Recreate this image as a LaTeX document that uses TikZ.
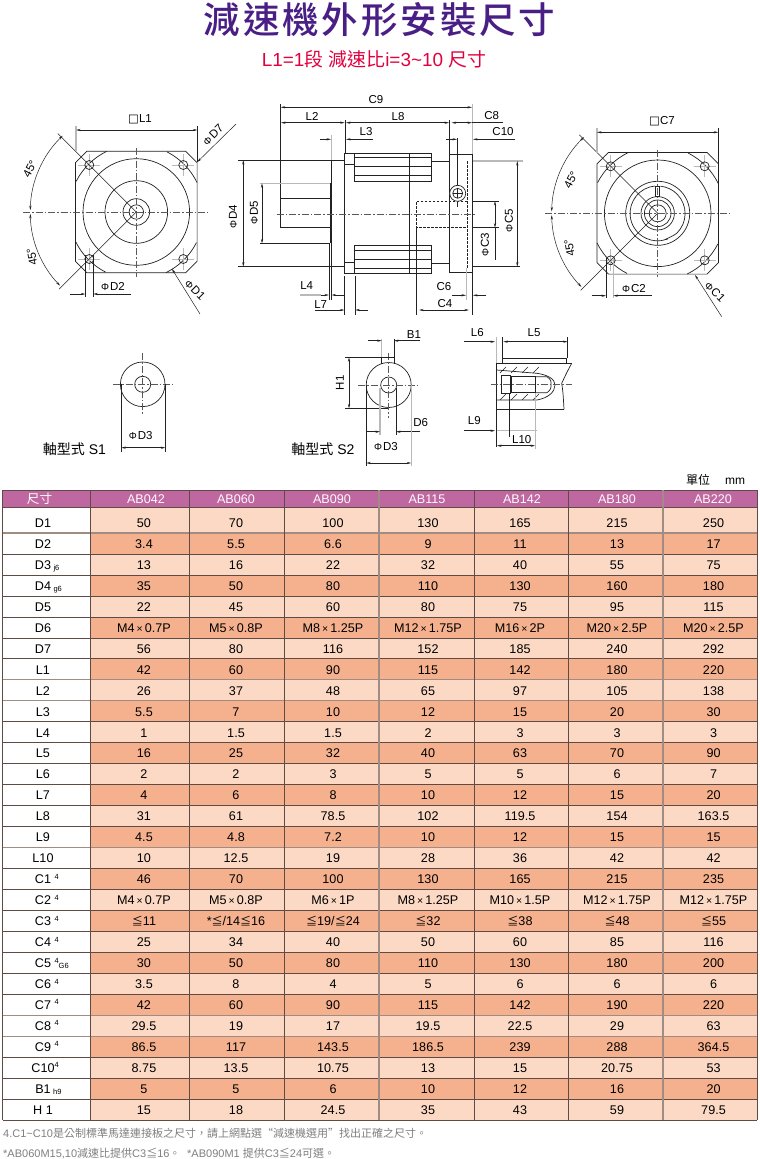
\documentclass[tikz,border=0pt]{standalone}
\usepackage{fontspec}
\setmainfont{Liberation Sans}
\newfontfamily\cjk{Noto Sans CJK TC}
\newfontfamily\cjkb{Noto Sans CJK TC Medium}
\newfontfamily\dv{DejaVu Sans}
\usetikzlibrary{arrows.meta}
\definecolor{titlecol}{HTML}{4A1F85}
\definecolor{subcol}{HTML}{E2003F}
\definecolor{headcol}{HTML}{BF67A0}
\definecolor{lightcell}{HTML}{FBD9C4}
\definecolor{darkcell}{HTML}{F5B18E}
\definecolor{gridcol}{HTML}{5E4B46}
\definecolor{gridsoft}{HTML}{A08C82}
\definecolor{inkcol}{HTML}{222222}
\definecolor{softline}{HTML}{B9B9B9}
\definecolor{notecol}{HTML}{808080}
\newcommand\Cj[1]{{\cjk #1}}
\newcommand\Ph{{\fontsize{10}{10}\selectfont Φ}\hspace{1pt}}
\newcommand\Sq{{\dv\fontsize{11.5}{11.5}\selectfont □}}
\newcommand\LE{{\cjk\fontsize{11}{11}\selectfont ≦}}
\newcommand\Mx[2]{M#1\hspace{2pt}{\fontsize{10.5}{10.5}\selectfont×}\hspace{2pt}#2P}
\newcommand\Sb[1]{\rlap{\hspace{2.5pt}\raisebox{-1pt}{\fontsize{7.5}{7.5}\selectfont #1}}}
\newcommand\Su[1]{\rlap{\hspace{3.5pt}\raisebox{4.5pt}{\fontsize{7.5}{7.5}\selectfont #1}}}
\newcommand\Sug[1]{\rlap{\hspace{3.5pt}\raisebox{4.5pt}{\fontsize{7.5}{7.5}\selectfont 4}\raisebox{-1pt}{\fontsize{7.5}{7.5}\selectfont #1}}}
\newcommand\datarow[9]{%
  \pgfmathsetmacro\yb{533+20.96*#1}%
  \pgfmathsetmacro\yt{#1==0?507.3:\yb-20.96}%
  \pgfmathsetmacro\yc{\yb-5.6}%
  \pgfmathparse{int(mod(#1,2))}%
  \ifnum\pgfmathresult=0 \fill[lightcell] (90,\yt) rectangle (757.3,\yb);\else \fill[darkcell] (90,\yt) rectangle (757.3,\yb);\fi
  \node[rowlabel] (lab#1) at (43,\yc) {#2};
  \node[cell] (a#1) at (144,\yc) {#3};
  \node[cell] (b#1) at (236,\yc) {#4};
  \node[cell] (c#1) at (333,\yc) {#5};
  \node[cell] (d#1) at (428,\yc) {#6};
  \node[cell] (e#1) at (520,\yc) {#7};
  \node[cell] (f#1) at (617,\yc) {#8};
  \node[cell] (g#1) at (713.5,\yc) {#9};
}
% flange end view, local origin at the centre
\newcommand\flangeview[1]{%
  \begin{scope}[shift={#1}]
    \draw[part] (-49.3,-60.8)--(49.3,-60.8)--(60.8,-49.3)--(60.8,49.3)--(49.3,60.8)--(-49.3,60.8)--(-60.8,49.3)--(-60.8,-49.3)--cycle;
    \draw[part] (0,0) circle[radius=53.3pt];
    \foreach \q in {0,90,180,270}{
      \draw[part] ([shift={(\q+26:67.5pt)}]0,0) arc[start angle=\q+26,end angle=\q+63,radius=67.5pt];
    }
    \foreach \hx/\hy in {-47/-47,47/-47,-47/47,47/47}{
      \draw[softline,line width=.8pt] (\hx-11,\hy)--(\hx+11,\hy);
      \draw[softline,line width=.8pt] (\hx,\hy-11)--(\hx,\hy+11);
      \draw[part] (\hx,\hy) circle[radius=4.5pt];
    }
    \draw[thinline] (0,0)--(135:111pt);
    \draw[thinline] (0,0)--(225:109pt);
    \draw[dimtips] ([shift={(134:106pt)}]0,0) arc[start angle=134,end angle=179,radius=106pt];
    \draw[dimtips] ([shift={(181:106pt)}]0,0) arc[start angle=181,end angle=224,radius=106pt];
  \end{scope}
}
\tikzset{
  part/.style={draw=inkcol,line width=.7pt},
  thinline/.style={draw=inkcol,line width=.5pt},
  softext/.style={draw=softline,line width=1.1pt},
  centre/.style={draw=inkcol!75,line width=.55pt,dash pattern=on 7pt off 2pt on 1.5pt off 2pt},
  hidden/.style={draw=inkcol,line width=.6pt,dash pattern=on 2.5pt off 1.5pt},
  dimtips/.style={draw=inkcol,line width=.5pt,{Stealth[length=4.5pt,width=2.2pt]}-{Stealth[length=4.5pt,width=2.2pt]}},
  dimtip/.style={draw=inkcol,line width=.5pt,-{Stealth[length=4.5pt,width=2.2pt]}},
  dimlabel/.style={inner sep=0pt,text=black,font=\fontsize{11.5}{12}\selectfont},
  rowlabel/.style={inner sep=0pt,anchor=base,text=black,font=\fontsize{12.6}{14}\selectfont},
  cell/.style={inner sep=0pt,anchor=base,text=black,font=\fontsize{12.6}{14}\selectfont},
  headcell/.style={inner sep=0pt,anchor=base,text=white!92!pink,font=\fontsize{12.6}{14}\selectfont},
}
\begin{document}
\begin{tikzpicture}[x=1pt,y=-1pt]
\useasboundingbox (0,0) rectangle (760,1159);
\fill[white] (0,0) rectangle (760,1159);

% titles
\node[inner sep=0pt,text=titlecol] (title) at (379.5,19.5) {\cjkb\fontsize{36.5}{38}\selectfont 減\hspace{2.9pt}速\hspace{2.9pt}機\hspace{2.9pt}外\hspace{2.9pt}形\hspace{2.9pt}安\hspace{2.9pt}裝\hspace{2.9pt}尺\hspace{2.9pt}寸};
\node[inner sep=0pt,text=subcol] (subtitle) at (374,59.5) {\fontsize{18.9}{20}\selectfont L1=1\Cj{段} \Cj{減速比}i=3\textasciitilde10 \Cj{尺寸}};

% ---------- left end view
\coordinate (LC) at (136.3,212);
\flangeview{(136.3,212)}
\begin{scope}[shift={(136.3,212)}]
  \draw[part] (0,0) circle[radius=31.3pt];
  \draw[part] (0,0) circle[radius=13.3pt];
  \draw[part] (0,0) circle[radius=7.2pt];
\end{scope}
\draw[centre] (23,212)--(208,212);
\draw[centre] (136.3,148)--(136.3,277);
\draw[softext] (76,126)--(76,151);
\draw[thinline] (197.3,126)--(197.3,162);
\draw[dimtips] (76,130)--(197.3,130);
\node[dimlabel] (tL1) at (140,119) {\Sq L1};
\draw[dimtip] (236,124)--(197.3,162);
\node[dimlabel,rotate=45] (tD7) at (213,135) {\Ph D7};
\draw[dimtip] (200,314)--(172,269);
\node[dimlabel,rotate=-45] (tD1) at (195,290) {\Ph D1};
\draw[thinline] (85.3,255)--(85.3,297);
\draw[thinline] (93.3,255)--(93.3,297);
\draw[dimtip] (70,294)--(85.3,294);
\draw[dimtip] (131,294)--(93.3,294);
\node[dimlabel] (tD2) at (113,287) {\Ph D2};
\node[dimlabel,rotate=62] (a1) at (30,169) {45°};
\node[dimlabel,rotate=100] (a2) at (32,257) {45°};

% ---------- right end view
\flangeview{(657.7,213.3)}
\begin{scope}[shift={(657.7,213.3)}]
  \draw[part] (0,0) circle[radius=32pt];
  \draw[part] (-3,-27.3) arc[start angle=96,end angle=288,radius=27.5pt]
     .. controls (4,27) and (14,24) .. (19,20)
     arc[start angle=-46,end angle=84,radius=27.5pt];
  \draw[part] (0,0) circle[radius=16.7pt];
  \draw[part] (0,0) circle[radius=13.3pt];
  \draw[part] (0,0) circle[radius=8.5pt];
  \draw[part] (-2,-27.3) rectangle (2,-16.5);
\end{scope}
\draw[centre] (545,213.3)--(730,213.3);
\draw[centre] (657.7,150)--(657.7,277);
\draw[softext] (597,128)--(597,153);
\draw[thinline] (718.3,128)--(718.3,165);
\draw[dimtips] (597,132.3)--(718.3,132.3);
\node[dimlabel] (tC7) at (662,120.7) {\Sq C7};
\draw[dimtip] (721.7,316.7)--(695,275);
\node[dimlabel,rotate=-45] (tC1) at (715,291.7) {\Ph C1};
\draw[thinline] (606,258)--(606,298);
\draw[softext] (613.3,258)--(613.3,298);
\draw[dimtip] (591.7,295.7)--(606,295.7);
\draw[dimtip] (651.7,295.7)--(613.3,295.7);
\node[dimlabel] (tC2) at (634,289) {\Ph C2};
\node[dimlabel,rotate=62] (a3) at (571,180) {45°};
\node[dimlabel,rotate=100] (a4) at (569.5,248) {45°};

% ---------- side view
\draw[part] (330,198.3)--(280,198.3)--(280,227.7)--(330,227.7);
\draw[part] (330,183.3)--(330,243.3);
\draw[part] (331.5,160)--(331.5,266.7);
\draw[part] (331.5,160)--(344.3,160) (331.5,266.7)--(344.3,266.7);
\draw[part] (344.3,153.3)--(431.7,153.3) (344.3,273.3)--(431.7,273.3);
\draw[part] (344.3,153.3)--(344.3,273.3);
\draw[part] (409.3,153.3)--(409.3,273.3);
\draw[part] (354.3,153.3)--(354.3,181) (354.3,245)--(354.3,273.3);
\draw[part] (431.7,153.3)--(431.7,181) (431.7,245)--(431.7,273.3);
\foreach \fy in {157.7,166.7,175.7,181,245,250.7,259.3,268.3}{\draw[part] (354.3,\fy)--(431.7,\fy);}
\draw[part] (344.3,164)--(354.3,164) (344.3,262.7)--(354.3,262.7);
\draw[part] (431.7,161.7)--(449.3,161.7) (431.7,263.3)--(449.3,263.3);
\draw[part] (449.3,154)--(472.7,154)--(472.7,272.3)--(449.3,272.3)--cycle;
\draw[hidden] (467.3,161)--(467.3,268);
\draw[hidden] (467.3,201)--(416.7,201)--(416.7,227.7)--(467.3,227.7);
\draw[thinline] (457.7,138)--(457.7,207);
\draw[part,fill=white] (457.7,193.3) circle[radius=8pt];
\draw[part] (457.7,193.3) circle[radius=5pt];
\draw[thinline] (452.7,193.3)--(462.7,193.3) (457.7,188.3)--(457.7,198.3);
\draw[centre] (276.7,214)--(476,214);
% side-view dimensions
\draw[thinline] (280.7,104)--(280.7,198.3);
\draw[softext] (472.7,104)--(472.7,154);
\draw[dimtips] (280.7,107.3)--(472,107.3);
\node[dimlabel] (tC9) at (376,100) {C9};
\draw[dimtips] (281,122.7)--(344.7,122.7);
\node[dimlabel] (tL2) at (312,116) {L2};
\draw[thinline] (345,120)--(345,153.3);
\draw[thinline] (449.3,120)--(449.3,154);
\draw[dimtips] (346,122.7)--(449,122.7);
\node[dimlabel] (tL8) at (398,117) {L8};
\draw[dimtips] (451.7,122.7)--(472,122.7);
\draw[thinline] (472,122.7)--(503,122.7);
\node[dimlabel] (tC8) at (491.7,116) {C8};
\draw[softext] (331.5,135)--(331.5,160);
\draw[dimtip] (320,139.3)--(331,139.3);
\draw[dimtip] (373,139.3)--(346,139.3);
\node[dimlabel] (tL3) at (366,131.7) {L3};
\draw[dimtip] (446,139.3)--(457,139.3);
\draw[dimtip] (515,139.3)--(473,139.3);
\node[dimlabel] (tC10) at (503,132) {C10};
\draw[thinline] (238,160)--(331.5,160) (238,266.7)--(331.5,266.7);
\draw[dimtips] (243.3,160)--(243.3,266.7);
\node[dimlabel,rotate=90] (tD4) at (233,216.7) {\Ph D4};
\draw[softext] (260,183.3)--(330,183.3);
\draw[thinline] (260,243.3)--(330,243.3);
\draw[dimtips] (262,183.3)--(262,243.3);
\node[dimlabel,rotate=90] (tD5) at (254,213) {\Ph D5};
\draw[softext] (472.7,161)--(522.7,161);
\draw[thinline] (472.7,266.7)--(520,266.7);
\draw[dimtips] (517.3,161)--(517.3,266.7);
\node[dimlabel,rotate=90] (tC5) at (509,220.7) {\Ph C5};
\draw[thinline] (472.7,201)--(499,201) (472.7,227.7)--(499,227.7);
\draw[dimtips] (495,201)--(495,227.7);
\draw[thinline] (495,227.7)--(495,260);
\node[dimlabel,rotate=90] (tC3) at (485,245) {\Ph C3};
\draw[thinline] (329,243.3)--(329,300) (331.5,266.7)--(331.5,300);
\draw[softext] (300,295)--(321,295);
\draw[dimtip] (321,295)--(329,295);
\draw[dimtip] (345,295)--(331.5,295);
\node[dimlabel] (tL4) at (306.7,286) {L4};
\draw[thinline] (344.3,276)--(344.3,315) (355.3,276)--(355.3,315);
\draw[dimtip] (315,310)--(344.3,310);
\draw[dimtip] (368,310)--(355.3,310);
\node[dimlabel] (tL7) at (320.7,304.7) {L7};
\draw[softext] (466.5,268)--(466.5,300);
\draw[thinline] (472.7,272.3)--(472.7,315);
\draw[dimtip] (452,295.3)--(466,295.3);
\draw[dimtip] (486,295.3)--(473,295.3);
\node[dimlabel] (tC6) at (444,287) {C6};
\draw[thinline] (416.7,227.7)--(416.7,315);
\draw[dimtips] (419,310)--(469,310);
\node[dimlabel] (tC4) at (445,304) {C4};

% ---------- shaft S1
\draw[part] (142.7,384.3) circle[radius=22.3pt];
\draw[part] (142.7,384.3) circle[radius=8pt];
\draw[centre] (113,384.3)--(173,384.3);
\draw[centre] (142.7,353)--(142.7,415);
\draw[thinline] (121.3,384.3)--(121.3,452) (165.3,384.3)--(165.3,452);
\draw[dimtips] (121.3,447.7)--(165.3,447.7);
\node[dimlabel] (tS1D3) at (140.7,435.7) {\Ph D3};
\node[inner sep=0pt] (tS1) at (74.5,449) {\fontsize{14}{15}\selectfont\Cj{軸型式} S1};

% ---------- shaft S2
\draw[part] (381.7,363.5)--(381.7,357.3)--(394,357.3)--(394,363.5);
\draw[part] (388.7,385) circle[radius=22.5pt];
\draw[part] (388.7,385) circle[radius=8pt];
\draw[centre] (358,385)--(418,385);
\draw[centre] (388.7,353)--(388.7,418);
\draw[softext] (381.7,339)--(381.7,357.3) ;
\draw[thinline] (394,339)--(394,357.3);
\draw[dimtip] (368,340.7)--(381.7,340.7);
\draw[dimtip] (420,340.7)--(394,340.7);
\node[dimlabel] (tB1) at (414,335) {B1};
\draw[thinline] (345,357.3)--(389,357.3) (345,408.3)--(388,408.3);
\draw[dimtips] (349,357.3)--(349,408.3);
\node[dimlabel,rotate=90] (tH1) at (340,382.7) {H1};
\draw[softext] (380,388)--(380,435);
\draw[thinline] (396,388)--(396,435);
\draw[dimtip] (367,431.7)--(380,431.7);
\draw[dimtip] (420,431.7)--(396,431.7);
\node[dimlabel] (tD6) at (420.7,423) {D6};
\draw[thinline] (366.3,385)--(366.3,466);
\draw[softext] (411.2,385)--(411.2,466);
\draw[dimtips] (366.3,463)--(411.2,463);
\node[dimlabel] (tS2D3) at (386,446.7) {\Ph D3};
\node[inner sep=0pt] (tS2) at (323,449) {\fontsize{14}{15}\selectfont\Cj{軸型式} S2};

% ---------- tapped-end detail
\draw[softext] (496.7,337)--(496.7,363.3);
\draw[thinline] (502.7,337)--(502.7,358.3) (567.7,337)--(567.7,358.3);
\draw[dimtip] (464,341.7)--(495,341.7);
\draw[dimtips] (503.3,341.7)--(567.7,341.7);
\node[dimlabel] (tL6) at (477.3,332.7) {L6};
\node[dimlabel] (tL5) at (534,332.7) {L5};
\draw[part] (502.7,358.3) rectangle (566.7,363.3);
\draw[part] (571.7,363.3)--(496.7,363.3)--(496.7,409.3)--(564,409.3);
\draw[part] (571.7,363.3) .. controls (567,372) .. (561.7,383.3) .. controls (563,392) .. (564,409.3);
\draw[part] (496.7,370)--(537,373.3) .. controls (548,375) and (555,379) .. (555,385) .. controls (555,392) and (548,398) .. (537,400)--(496.7,400);
\draw[part] (501.7,375) rectangle (510,393.3);
\draw[draw=inkcol,line width=1.1pt] (511,376.7) rectangle (535.7,392.7);
\draw[part] (535.7,376.7)--(547,376.7) .. controls (551,380) .. (551,384.5) .. controls (551,389) .. (547,392.7)--(535.7,392.7);
\foreach \hx in {500,511,522,533}{
  \draw[thinline] (\hx,373)--(\hx+6,367);
  \draw[thinline] (\hx,400)--(\hx+6,394);
}
\draw[centre] (490.7,384.3)--(572.3,384.3);
\draw[thinline] (496.7,409.3)--(496.7,447);
\draw[dimtip] (464,430.7)--(495,430.7);
\draw[softext] (497,430.7)--(536.7,430.7);
\node[dimlabel] (tL9) at (474.3,420.7) {L9};
\draw[softext] (535.5,393)--(535.5,449);
\draw[thinline] (509.3,393)--(509.3,437);
\draw[dimtips] (497,445.7)--(535,445.7);
\node[dimlabel] (tL10) at (521.7,440) {L10};

% ---------- table
\node[inner sep=0pt,anchor=base] (unit1) at (698,484) {\fontsize{12}{14}\selectfont\Cj{單位}};
\node[inner sep=0pt,anchor=base] (unit2) at (735,484) {\fontsize{12}{14}\selectfont mm};
\fill[headcol] (2.5,490.3) rectangle (757.3,507.3);
\node[headcell] (h0) at (39.5,503.5) {\Cj{尺寸}};
\node[headcell] (h1) at (146,503.5) {AB042};
\node[headcell] (h2) at (236,503.5) {AB060};
\node[headcell] (h3) at (332,503.5) {AB090};
\node[headcell] (h4) at (427,503.5) {AB115};
\node[headcell] (h5) at (522,503.5) {AB142};
\node[headcell] (h6) at (617,503.5) {AB180};
\node[headcell] (h7) at (713,503.5) {AB220};
\datarow{0}{D1}{50}{70}{100}{130}{165}{215}{250}
\datarow{1}{D2}{3.4}{5.5}{6.6}{9}{11}{13}{17}
\datarow{2}{D3\Sb{j6}}{13}{16}{22}{32}{40}{55}{75}
\datarow{3}{D4\Sb{g6}}{35}{50}{80}{110}{130}{160}{180}
\datarow{4}{D5}{22}{45}{60}{80}{75}{95}{115}
\datarow{5}{D6}{\Mx{4}{0.7}}{\Mx{5}{0.8}}{\Mx{8}{1.25}}{\Mx{12}{1.75}}{\Mx{16}{2}}{\Mx{20}{2.5}}{\Mx{20}{2.5}}
\datarow{6}{D7}{56}{80}{116}{152}{185}{240}{292}
\datarow{7}{L1}{42}{60}{90}{115}{142}{180}{220}
\datarow{8}{L2}{26}{37}{48}{65}{97}{105}{138}
\datarow{9}{L3}{5.5}{7}{10}{12}{15}{20}{30}
\datarow{10}{L4}{1}{1.5}{1.5}{2}{3}{3}{3}
\datarow{11}{L5}{16}{25}{32}{40}{63}{70}{90}
\datarow{12}{L6}{2}{2}{3}{5}{5}{6}{7}
\datarow{13}{L7}{4}{6}{8}{10}{12}{15}{20}
\datarow{14}{L8}{31}{61}{78.5}{102}{119.5}{154}{163.5}
\datarow{15}{L9}{4.5}{4.8}{7.2}{10}{12}{15}{15}
\datarow{16}{L10}{10}{12.5}{19}{28}{36}{42}{42}
\datarow{17}{C1\Su{4}}{46}{70}{100}{130}{165}{215}{235}
\datarow{18}{C2\Su{4}}{\Mx{4}{0.7}}{\Mx{5}{0.8}}{\Mx{6}{1}}{\Mx{8}{1.25}}{\Mx{10}{1.5}}{\Mx{12}{1.75}}{\Mx{12}{1.75}}
\datarow{19}{C3\Su{4}}{\LE 11}{*\LE/14\LE 16}{\LE 19/\LE 24}{\LE 32}{\LE 38}{\LE 48}{\LE 55}
\datarow{20}{C4\Su{4}}{25}{34}{40}{50}{60}{85}{116}
\datarow{21}{C5\Sug{G6}}{30}{50}{80}{110}{130}{180}{200}
\datarow{22}{C6\Su{4}}{3.5}{8}{4}{5}{6}{6}{6}
\datarow{23}{C7\Su{4}}{42}{60}{90}{115}{142}{190}{220}
\datarow{24}{C8\Su{4}}{29.5}{19}{17}{19.5}{22.5}{29}{63}
\datarow{25}{C9\Su{4}}{86.5}{117}{143.5}{186.5}{239}{288}{364.5}
\datarow{26}{C10\rlap{\raisebox{4.5pt}{\fontsize{7.5}{7.5}\selectfont 4}}}{8.75}{13.5}{10.75}{13}{15}{20.75}{53}
\datarow{27}{B1\Sb{h9}}{5}{5}{6}{10}{12}{16}{20}
\datarow{28}{H 1}{15}{18}{24.5}{35}{43}{59}{79.5}
% grid
\foreach \i in {0,...,27}{
  \pgfmathsetmacro\yy{533+20.96*\i}
  \draw[gridcol,line width=.55pt] (2.5,\yy)--(757.3,\yy);
}
\foreach \i in {0,7,8,15,23,24}{
  \pgfmathsetmacro\yy{533+20.96*\i}
  \draw[gridsoft,line width=1.1pt] (2.5,\yy)--(757.3,\yy);
}
\draw[gridcol,line width=.55pt] (2.5,490.3)--(757.3,490.3) (2.5,507.3)--(757.3,507.3) (2.5,1120)--(757.3,1120);
\foreach \x in {2.5,90.3,189.5,284.5,474,568.7,757.3}{\draw[gridcol,line width=.55pt] (\x,490.3)--(\x,1120);}
\foreach \x in {379,663}{\draw[gridsoft,line width=1.2pt] (\x,490.3)--(\x,1120);}

% notes
\node[inner sep=0pt,anchor=base west,text=notecol] (note1) at (3,1137) {\fontsize{11}{12}\selectfont 4.C1\textasciitilde C10\Cj{是公制標準馬達連接板之尺寸，請上網點選“減速機選用”找出正確之尺寸。}};
\node[inner sep=0pt,anchor=base west,text=notecol] (note2) at (3,1157) {\fontsize{11}{12}\selectfont *AB060M15,10\Cj{減速比提供}C3\LE 16\Cj{。}};
\node[inner sep=0pt,anchor=base west,text=notecol] (note3) at (187,1157) {\fontsize{11}{12}\selectfont *AB090M1 \Cj{提供}C3\LE 24\Cj{可選。}};
\end{tikzpicture}
\end{document}
